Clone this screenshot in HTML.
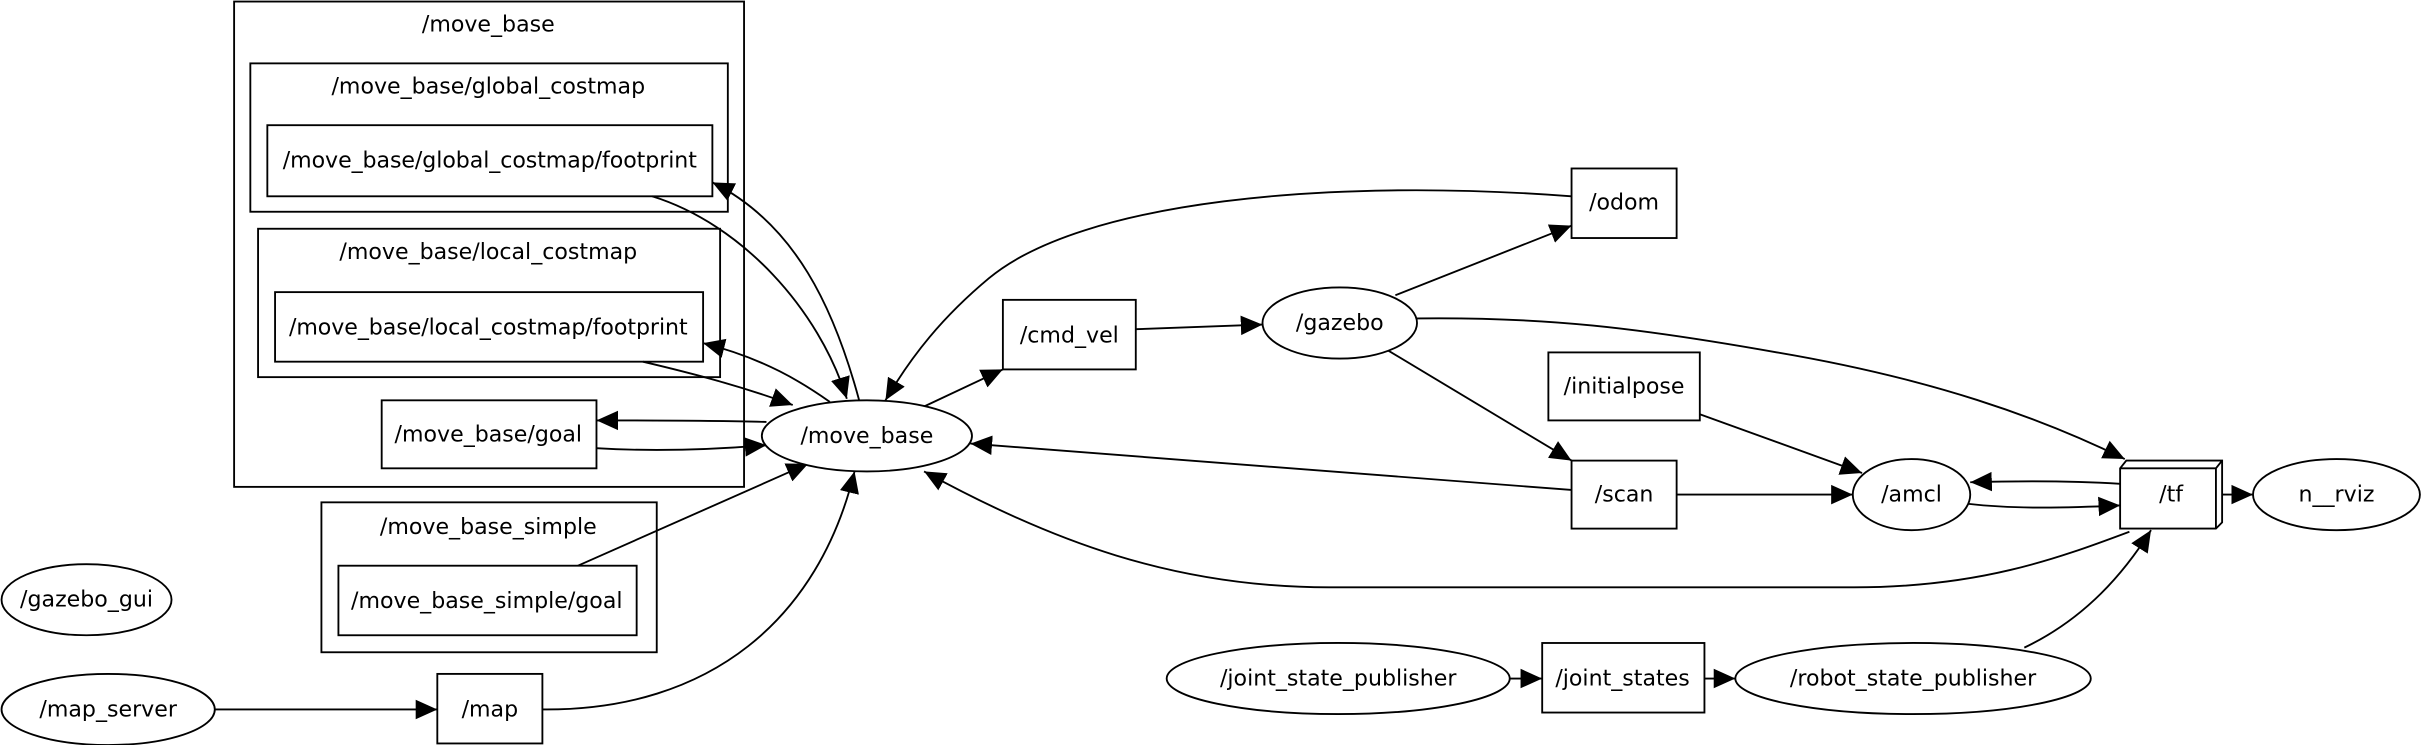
<!DOCTYPE html>
<html><head><meta charset="utf-8"><style>
html,body{margin:0;padding:0;background:#fff}
svg{display:block}
text{font-family:"DejaVu Sans","Liberation Sans",sans-serif;font-size:14.3px;text-anchor:middle;dominant-baseline:central;fill:#000}
.s{fill:none;stroke:#000;stroke-width:1.2}
.n{fill:#fff;stroke:#000;stroke-width:1.2}
</style></head><body>
<svg width="2423" height="745" viewBox="0 0 1568 482" preserveAspectRatio="none">
<defs><marker id="a" viewBox="0 0 10 10" refX="10" refY="5" markerWidth="14" markerHeight="14" markerUnits="userSpaceOnUse" orient="auto"><path d="M0,0.5 L10,5 L0,9.5z" fill="#000"/></marker></defs>
<rect class="n" x="151.5" y="1" width="330" height="314"/><text x="316" y="16">/move_base</text>
<rect class="n" x="162" y="41" width="309" height="96"/><text x="316" y="56">/move_base/global_costmap</text>
<rect class="n" x="173" y="81" width="288" height="46"/><text x="317" y="104" textLength="268">/move_base/global_costmap/footprint</text>
<rect class="n" x="167" y="148" width="299" height="96"/><text x="316" y="163">/move_base/local_costmap</text>
<rect class="n" x="178" y="189" width="277" height="45"/><text x="316" y="212" textLength="258">/move_base/local_costmap/footprint</text>
<rect class="n" x="247" y="259" width="139" height="44"/><text x="316" y="281">/move_base/goal</text>
<rect class="n" x="208" y="325" width="217" height="97"/><text x="316" y="341">/move_base_simple</text>
<rect class="n" x="219" y="366" width="193" height="45"/><text x="315" y="389">/move_base_simple/goal</text>
<g class="s" marker-end="url(#a)">
<path d="M422,127 C480,145 530,200 548,258"/>
<path d="M556,259 C540,200 515,145 461,118"/>
<path d="M416,234 C450,242 480,250 513,262"/>
<path d="M537,260 C520,248 495,232 455,222"/>
<path d="M496,273 C460,272 420,272 386,272"/>
<path d="M386,290 C420,292 460,291 496,288"/>
<path d="M374,366 L523,300"/>
<path d="M351,459 C460,460 530,400 553,305"/>
<path d="M139,459 L283,459"/>
<path d="M598,263 L649,239"/>
<path d="M735,213 L817,210"/>
<path d="M903,191 L1017,146"/>
<path d="M1017,127 C860,115 700,130 640,180 C610,205 590,230 573,259"/>
<path d="M917,206 C1000,205 1060,212 1150,228 C1250,245 1320,270 1375,297"/>
<path d="M897,226 L1017,298"/>
<path d="M1100,268 L1205,306"/>
<path d="M1017,317 L628,287"/>
<path d="M1085,320 L1199,320"/>
<path d="M1372,313 C1340,311 1310,311 1275,312"/>
<path d="M1274,326 C1300,329 1330,329 1372,327"/>
<path d="M1378,344 C1330,362 1280,380 1200,380 L860,380 C760,380 680,350 598,305"/>
<path d="M1437,320 L1458,320"/>
<path d="M977,439 L998,439"/>
<path d="M1103,439 L1123,439"/>
<path d="M1310,419 C1350,400 1375,370 1392,343"/>
</g>
<ellipse class="n" cx="56" cy="388" rx="55" ry="23"/><text x="56" y="388">/gazebo_gui</text>
<ellipse class="n" cx="70" cy="459" rx="69" ry="23"/><text x="70" y="459">/map_server</text>
<rect class="n" x="283" y="436" width="68" height="45"/><text x="317" y="459">/map</text>
<ellipse class="n" cx="561" cy="282" rx="68" ry="23"/><text x="561" y="282">/move_base</text>
<rect class="n" x="649" y="194" width="86" height="45"/><text x="692" y="217">/cmd_vel</text>
<ellipse class="n" cx="867" cy="209" rx="50" ry="23"/><text x="867" y="209">/gazebo</text>
<rect class="n" x="1017" y="109" width="68" height="45"/><text x="1051" y="131">/odom</text>
<rect class="n" x="1002" y="228" width="98" height="44"/><text x="1051" y="250">/initialpose</text>
<rect class="n" x="1017" y="298" width="68" height="44"/><text x="1051" y="320">/scan</text>
<ellipse class="n" cx="1237" cy="320" rx="38" ry="23"/><text x="1237" y="320">/amcl</text>
<path class="n" d="M1372,303 L1376,298 L1438,298 L1438,338 L1434,342 L1372,342 Z"/>
<path class="s" d="M1372,303 L1434,303 L1434,342 M1434,303 L1438,298"/>
<text x="1405" y="320">/tf</text>
<ellipse class="n" cx="1512" cy="320" rx="54" ry="23"/><text x="1512" y="320">n__rviz</text>
<ellipse class="n" cx="866" cy="439" rx="111" ry="23"/><text x="866" y="439">/joint_state_publisher</text>
<rect class="n" x="998" y="416" width="105" height="45"/><text x="1050" y="439">/joint_states</text>
<ellipse class="n" cx="1238" cy="439" rx="115" ry="23"/><text x="1238" y="439">/robot_state_publisher</text>
</svg>
</body></html>
